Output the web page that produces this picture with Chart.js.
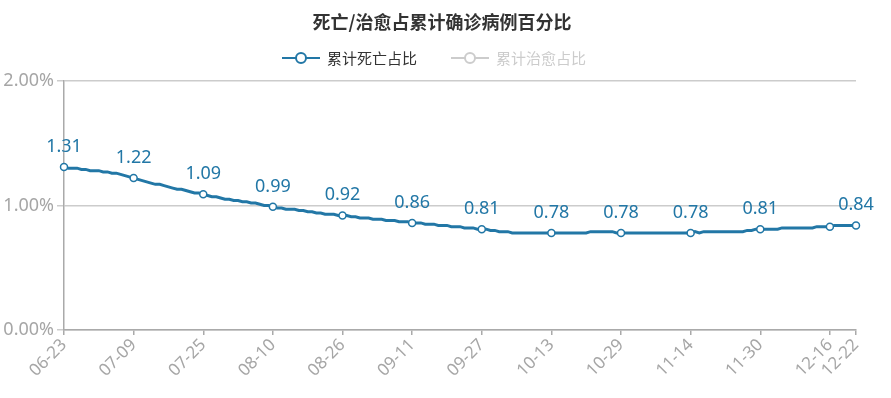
<!DOCTYPE html>
<html>
<head>
<meta charset="utf-8">
<script src="https://cdn.jsdelivr.net/npm/chart.js@4/dist/chart.umd.min.js"></script>
<style>
html,body{margin:0;padding:0;background:#fff;}
#wrap{width:891px;height:398px;position:relative;}
</style>
</head>
<body>
<div id="wrap"><canvas id="c" width="891" height="398"></canvas></div>
<script>
// ---- data ----
const startDate = '2020-06-23';
const dayCount = 183; // 06-23 .. 12-22
const categories = [];
(function(){
  const d0 = new Date(startDate + 'T00:00:00Z');
  for (let i = 0; i < dayCount; i++) {
    const d = new Date(d0.getTime() + i * 86400000);
    const mm = String(d.getUTCMonth() + 1).padStart(2, '0');
    const dd = String(d.getUTCDate()).padStart(2, '0');
    categories.push(mm + '-' + dd);
  }
})();

const deathRatio = [
  1.31,1.30,1.30,1.30,1.29,1.29,1.28,1.28,1.28,1.27,1.27,1.26,1.26,1.25,1.24,1.23,
  1.22,1.21,1.20,1.19,1.18,1.17,1.17,1.16,1.15,1.14,1.13,1.13,1.12,1.11,1.10,1.10,
  1.09,1.08,1.07,1.07,1.06,1.05,1.05,1.04,1.04,1.03,1.03,1.02,1.02,1.01,1.00,1.00,
  0.99,0.98,0.98,0.97,0.97,0.97,0.96,0.96,0.95,0.95,0.94,0.94,0.93,0.93,0.93,0.92,
  0.92,0.92,0.91,0.91,0.90,0.90,0.90,0.89,0.89,0.89,0.88,0.88,0.88,0.87,0.87,0.87,
  0.86,0.86,0.86,0.85,0.85,0.85,0.84,0.84,0.84,0.83,0.83,0.83,0.82,0.82,0.82,0.81,
  0.81,0.81,0.80,0.80,0.79,0.79,0.79,0.78,0.78,0.78,0.78,0.78,0.78,0.78,0.78,0.78,
  0.78,0.78,0.78,0.78,0.78,0.78,0.78,0.78,0.78,0.79,0.79,0.79,0.79,0.79,0.79,0.78,
  0.78,0.78,0.78,0.78,0.78,0.78,0.78,0.78,0.78,0.78,0.78,0.78,0.78,0.78,0.78,0.78,
  0.78,0.79,0.78,0.79,0.79,0.79,0.79,0.79,0.79,0.79,0.79,0.79,0.79,0.80,0.80,0.81,
  0.81,0.81,0.81,0.81,0.81,0.82,0.82,0.82,0.82,0.82,0.82,0.82,0.82,0.83,0.83,0.83,
  0.83,0.84,0.84,0.84,0.84,0.84,0.84
];
const cureRatio = []; // hidden series in the reference

const tickIndexes = [0,16,32,48,64,80,96,112,128,144,160,176,182];
const markerIndexes = [0,16,32,48,64,80,96,112,128,144,160,176,182];
const labelIndexes = [0,16,32,48,64,80,96,112,128,144,160,182];
const yTicks = [0, 1, 2];

const seriesNames = ['累计死亡占比', '累计治愈占比'];
const titleText = '死亡/治愈占累计确诊病例百分比';

// ---- styles ----
const BLUE = '#2277a6';
const GRAY_TXT = '#a6a6a6';
const FONT = "'Noto Sans', 'Noto Sans CJK SC', sans-serif";
const CJK = "'Noto Sans CJK SC', sans-serif";

const header = {
  id: 'header',
  afterDraw(chart) {
    const ctx = chart.ctx;
    ctx.save();
    ctx.font = 'bold 18px ' + CJK;
    ctx.fillStyle = '#333';
    ctx.textAlign = 'center';
    ctx.textBaseline = 'middle';
    ctx.fillText(titleText, 442, 22);
    const items = [
      { x: 282, color: BLUE, text: '#333' },
      { x: 451, color: '#cccccc', text: '#cccccc' }
    ];
    items.forEach((it, i) => {
      const y = 58;
      ctx.strokeStyle = it.color;
      ctx.lineWidth = 2;
      ctx.beginPath(); ctx.moveTo(it.x, y); ctx.lineTo(it.x + 38, y); ctx.stroke();
      ctx.beginPath(); ctx.arc(it.x + 19, y, 5, 0, Math.PI * 2);
      ctx.fillStyle = '#fff'; ctx.fill(); ctx.stroke();
      ctx.font = '15px ' + CJK;
      ctx.fillStyle = it.text;
      ctx.textAlign = 'left';
      ctx.fillText(seriesNames[i], it.x + 45, y);
    });
    ctx.restore();
  }
};

const valueLabels = {
  id: 'valueLabels',
  afterDatasetsDraw(chart) {
    const meta = chart.getDatasetMeta(0);
    const ctx = chart.ctx;
    ctx.save();
    ctx.font = '18px ' + FONT;
    ctx.fillStyle = BLUE;
    ctx.textAlign = 'center';
    ctx.textBaseline = 'alphabetic';
    labelIndexes.forEach(i => {
      const p = meta.data[i];
      ctx.fillText(deathRatio[i].toFixed(2), p.x, p.y - 15);
    });
    ctx.restore();
  }
};

new Chart(document.getElementById('c'), {
  type: 'line',
  data: {
    labels: categories,
    datasets: [
      {
        label: seriesNames[0],
        data: deathRatio,
        borderColor: BLUE,
        borderWidth: 3,
        tension: 0,
        pointRadius: ctx => markerIndexes.includes(ctx.dataIndex) ? 3.5 : 0,
        pointHoverRadius: 4,
        pointBackgroundColor: '#fff',
        pointBorderColor: BLUE,
        pointBorderWidth: 1.5
      },
      {
        label: seriesNames[1],
        data: cureRatio,
        borderColor: '#ccc',
        hidden: true
      }
    ]
  },
  options: {
    responsive: false,
    animation: false,
    layout: { padding: { left: 0, right: 35, top: 81, bottom: 0 } },
    plugins: {
      tooltip: { enabled: false },
      title: { display: false },
      legend: { display: false }
    },
    scales: {
      x: {
        type: 'category',
        afterFit: s => { s.height = 68; },
        border: { display: true, color: '#aaa', width: 1.5 },
        grid: { display: true, drawOnChartArea: false, drawTicks: true, tickLength: 5, color: '#aaa', lineWidth: 1.5 },
        ticks: {
          autoSkip: false,
          maxRotation: 45,
          minRotation: 45,
          color: GRAY_TXT,
          font: { family: FONT, size: 17 },
          padding: 0,
          callback: (v, i) => tickIndexes.includes(i) ? categories[i] : null
        }
      },
      y: {
        min: 0,
        max: 2,
        afterFit: s => { s.width = 64; },
        afterBuildTicks: s => { s.ticks = yTicks.map(v => ({ value: v })); },
        border: { display: true, color: '#aaa', width: 1.5 },
        grid: { color: '#cccccc', lineWidth: 1.5, drawTicks: true, tickLength: 7 },
        ticks: {
          color: GRAY_TXT,
          font: { family: FONT, size: 18 },
          padding: 3,
          callback: v => v.toFixed(2) + '%'
        }
      }
    }
  },
  plugins: [valueLabels, header]
});
</script>
</body>
</html>
